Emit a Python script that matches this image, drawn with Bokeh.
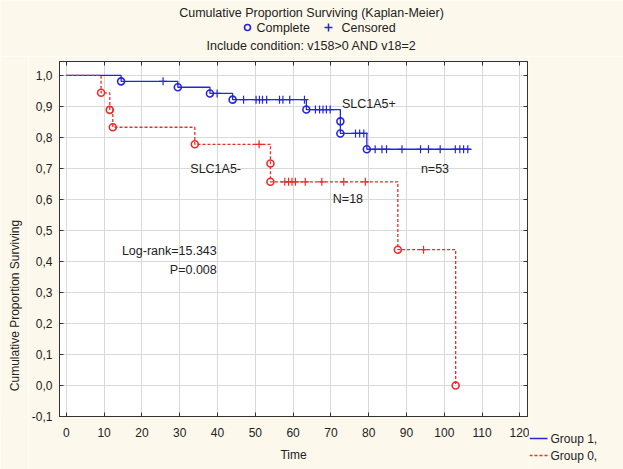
import math
import numpy as np
from bokeh.plotting import figure
from bokeh.models import Label, LinearAxis, CustomJSTickFormatter, FixedTicker
from bokeh.layouts import column, row
from bokeh.core.properties import value
from bokeh.embed import file_html
from bokeh.resources import INLINE

# ---------------- data ----------------
x_ticks = [0, 10, 20, 30, 40, 50, 60, 70, 80, 90, 100, 110, 120]
y_ticks = [-0.1, 0.0, 0.1, 0.2, 0.3, 0.4, 0.5, 0.6, 0.7, 0.8, 0.9, 1.0]

# Group 1 (SLC1A5+, n=53) step function
g1_time = [0, 14.5, 29.5, 38.0, 44.0, 63.5, 72.5, 72.5, 79.5, 107.0]
g1_surv = [1.0, 0.981, 0.962, 0.942, 0.922, 0.890, 0.852, 0.813, 0.762, 0.762]
g1_event_time = [14.5, 29.5, 38.0, 44.0, 63.5, 72.5, 72.5, 79.5]
g1_event_surv = [0.981, 0.962, 0.942, 0.922, 0.890, 0.852, 0.813, 0.762]
g1_cens_time = [25.6, 39.9, 46.9, 50.2, 51.1, 51.9, 53.0, 56.4, 57.3, 59.1, 63.0,
                65.9, 67.0, 67.9, 68.8, 69.8, 76.5, 77.6, 78.7,
                81.7, 83.5, 84.7, 88.8, 93.7, 95.8, 98.9, 102.9, 104.1, 105.1, 106.2]

# Group 0 (SLC1A5-, N=18) step function
g0_time = [0, 9.2, 11.5, 12.3, 34.0, 54.0, 54.0, 87.7, 103.0]
g0_surv = [1.0, 0.944, 0.889, 0.833, 0.778, 0.716, 0.657, 0.438, 0.0]
g0_event_time = [9.2, 11.5, 12.3, 34.0, 54.0, 54.0, 87.7, 103.0]
g0_event_surv = [0.944, 0.889, 0.833, 0.778, 0.716, 0.657, 0.438, 0.0]
g0_cens_time = [51.0, 57.8, 58.8, 59.7, 60.6, 63.2, 67.6, 73.4, 79.1, 94.5]

annotations = [
    ("SLC1A5+", 72.9, 0.909, "left"),
    ("SLC1A5-", 32.8, 0.699, "left"),
    ("n=53", 93.8, 0.699, "left"),
    ("N=18", 70.5, 0.602, "left"),
    ("Log-rank=15.343", 39.8, 0.435, "right"),
    ("P=0.008", 39.8, 0.371, "right"),
]

title_text = "Cumulative Proportion Surviving (Kaplan-Meier)"
subtitle_text = "Include condition: v158>0 AND v18=2"
marker_labels = ["Complete", "Censored"]
group_labels = ["Group 1,", "Group 0,"]
x_label = "Time"
y_label = "Cumulative Proportion Surviving"

BLUE = "#2525DD"
RED = "#EE2A2A"
BG = "#FDF8EC"
FONT = "Liberation Sans"
TXT = "#222222"

W, H = 623, 469
HH = 56          # header strip height
LW = 28          # left strip width (y-axis title)
MW = 529         # right edge of the main plot
FRAME_TOP, FRAME_BOTTOM = 61, 416


def surv_at(times, survs, t):
    idx = np.searchsorted(np.array(times), t, side="right") - 1
    return [survs[i] for i in idx]


g1_cens_surv = surv_at(g1_time, g1_surv, g1_cens_time)
g0_cens_surv = surv_at(g0_time, g0_surv, g0_cens_time)


def blank(width, height, xr, yr, top=0, bottom=0):
    f = figure(width=width, height=height, x_range=xr, y_range=yr,
               output_backend="svg", toolbar_location=None,
               min_border=0, min_border_left=0, min_border_right=0,
               min_border_top=top, min_border_bottom=bottom,
               background_fill_color=BG, border_fill_color=BG)
    f.axis.visible = False
    f.grid.visible = False
    f.outline_line_color = None
    if "frame_align" in f.properties():
        f.frame_align = False
    return f


# ---------------- header strip (pixel coordinates, y downwards) ----------------
head = blank(W, HH, (0, W), (HH, 0))
head.text(x=[311, 311], y=[12, 45], text=[title_text, subtitle_text],
          text_align="center", text_baseline="middle", text_font=value(FONT),
          text_font_size="12.5px", text_color=TXT)
head.text(x=[256, 341], y=[27, 27], text=marker_labels, text_align="left",
          text_baseline="middle", text_font=value(FONT), text_font_size="12.5px",
          text_color=TXT)
head.scatter(x=[247], y=[27], marker="circle", size=6, line_color=BLUE,
             line_width=1.6, fill_alpha=0)
head.scatter(x=[328], y=[27], marker="cross", size=8, line_color=BLUE, line_width=1.5)

# ---------------- left strip: y-axis title ----------------
left = blank(LW, H - HH, (0, LW), (FRAME_BOTTOM, FRAME_TOP),
             top=FRAME_TOP - HH, bottom=H - FRAME_BOTTOM)
left.text(x=[14], y=[305], text=[y_label], angle=math.pi / 2, text_align="center",
          text_baseline="middle", text_font=value(FONT), text_font_size="12px",
          text_color=TXT)

# ---------------- main plot ----------------
p = figure(width=MW - LW, height=H - HH, x_range=(-1.8, 122), y_range=(-0.1, 1.045),
           output_backend="svg", toolbar_location=None,
           background_fill_color="white", border_fill_color=BG,
           min_border_left=59 - LW, min_border_right=MW - 527,
           min_border_top=FRAME_TOP - HH, min_border_bottom=H - FRAME_BOTTOM)
p.outline_line_color = "#333333"
p.outline_line_width = 1

yfmt = CustomJSTickFormatter(code="return tick.toFixed(1).replace('.', ',');")

for ax in (p.xaxis[0], p.yaxis[0]):
    ax.major_tick_in = 4
    ax.major_tick_out = 0
    ax.minor_tick_in = 0
    ax.minor_tick_out = 0
    ax.axis_line_color = "#333333"
    ax.major_tick_line_color = "#333333"
    ax.major_label_text_font = FONT
    ax.major_label_text_font_size = "12px"
    ax.major_label_text_color = TXT
    ax.axis_label_text_font = FONT
    ax.axis_label_text_font_size = "12px"
    ax.axis_label_text_font_style = "normal"
    ax.axis_label_text_color = TXT

p.xaxis.ticker = FixedTicker(ticks=x_ticks)
p.yaxis.ticker = FixedTicker(ticks=y_ticks)
p.yaxis.formatter = yfmt
p.xaxis.axis_label = x_label
p.xaxis.major_label_standoff = 11
p.xaxis.axis_label_standoff = 8
p.yaxis.major_label_standoff = 7

for loc, tick in (("above", x_ticks), ("right", y_ticks)):
    ax = LinearAxis(ticker=FixedTicker(ticks=tick),
                    major_tick_in=4, major_tick_out=0,
                    minor_tick_in=0, minor_tick_out=0, major_label_text_font_size="0px",
                    axis_line_color="#333333", major_tick_line_color="#333333",
                    major_label_standoff=0)
    p.add_layout(ax, loc)

p.xgrid.grid_line_color = "#D9D9D9"
p.ygrid.grid_line_color = "#D9D9D9"

p.step(g1_time, g1_surv, mode="after", line_color=BLUE, line_width=1.3)
p.scatter(g1_event_time, g1_event_surv, marker="circle", size=7, line_color=BLUE,
          line_width=1.6, fill_alpha=0)
p.scatter(g1_cens_time, g1_cens_surv, marker="cross", size=8, line_color=BLUE,
          line_width=1.2)

p.step(g0_time, g0_surv, mode="after", line_color=RED, line_width=1.3, line_dash="3 2")
p.scatter(g0_event_time, g0_event_surv, marker="circle", size=7, line_color=RED,
          line_width=1.6, fill_alpha=0)
p.scatter(g0_cens_time, g0_cens_surv, marker="cross", size=8, line_color=RED,
          line_width=1.2)

for txt, tx, ty, al in annotations:
    p.add_layout(Label(x=tx, y=ty, text=txt, text_align=al, text_baseline="middle",
                       text_font=FONT, text_font_size="12.5px", text_color=TXT))

# ---------------- group legend strip (page pixel coordinates, y downwards) ----------------
leg = blank(W - MW, H - HH, (MW, W), (H, HH))
leg.line(x=[MW, 547], y=[438, 438], line_color=BLUE, line_width=1.3)
leg.line(x=[MW, 547], y=[455, 455], line_color=RED, line_width=1.3, line_dash="3 2")
leg.text(x=[550, 550], y=[438, 455], text=group_labels, text_align="left",
         text_baseline="middle", text_font=value(FONT), text_font_size="12px",
         text_color=TXT)

layout = column(head, row(left, p, leg, spacing=0), spacing=0)
open("out.html", "w").write(file_html(layout, INLINE))
